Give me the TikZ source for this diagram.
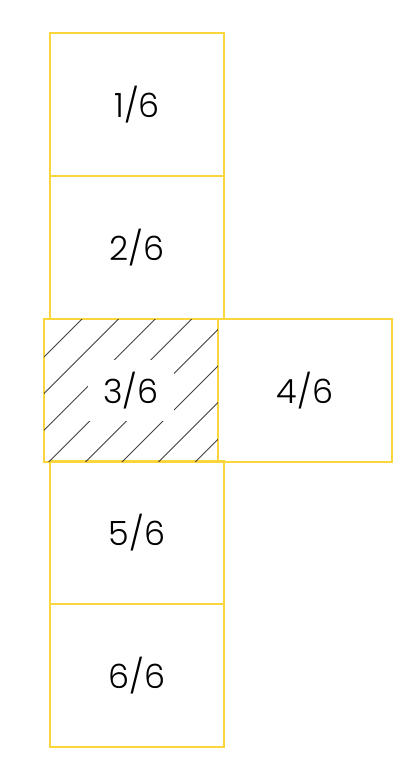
\documentclass[tikz,border=0pt]{standalone}
\usepackage{fontspec}
\setmainfont{Poppins Light}
\definecolor{netyellow}{RGB}{250,214,60}

\begin{document}
\begin{tikzpicture}[x=0.02cm,y=-0.02cm,
        face/.style={rectangle,draw=netyellow,line width=1.1pt,minimum width=3.48cm,minimum height=2.85cm,inner sep=0pt,font=\fontsize{19}{21}\selectfont},
        hatch/.style={draw=black!75,line width=0.5pt}]
    \useasboundingbox (0,0) rectangle (415,764);

    % Column
    \node[face] (f1) at (137,104.5) {1/6};
    \node[face] (f2) at (137,247.5) {2/6};
    \node[face] (f5) at (137,532.5) {5/6};
    \node[face] (f6) at (137,675.5) {6/6};

    % Middle row
    \node[face] (f3) at (131,390.5) {};
    \node[face] (f4) at (305,390.5) {4/6};

    % Hatching of 3/6
    \begin{scope}
        \clip ([xshift=0.55pt,yshift=-0.55pt]f3.north west) rectangle ([xshift=-0.55pt,yshift=0.55pt]f3.south east);
        \foreach \i in {1,...,8}
            \draw[hatch] ({364.4+36.6*\i-480},480) -- ({364.4+36.6*\i-300},300);
    \end{scope}
    \node[fill=white,inner xsep=9pt,inner ysep=7pt,font=\fontsize{19}{21}\selectfont] (l3) at (f3) {3/6};
\end{tikzpicture}
\end{document}
